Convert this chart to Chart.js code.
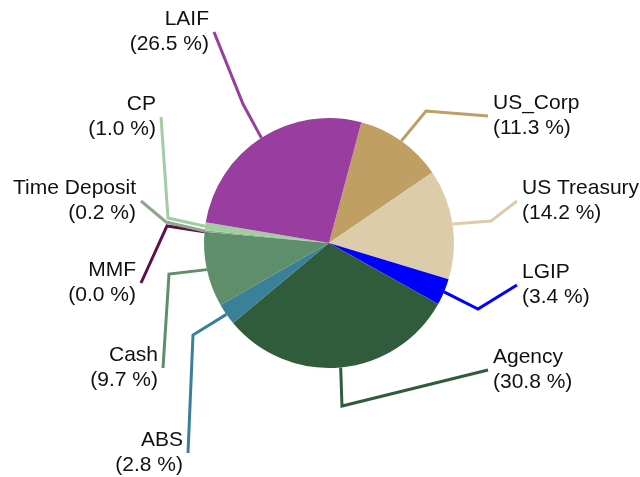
<!DOCTYPE html>
<html lang="en">
<head>
    <meta charset="UTF-8">
    <title>Portfolio Allocation</title>
    <script src="https://cdn.jsdelivr.net/npm/chart.js"></script>
    <style>
        body {
            margin: 0;
            background: white;
        }

        .chart-box {
            width: 640px;
            height: 477px;
        }
    </style>
</head>
<body>
    <div class="chart-box">
        <canvas id="pieChart"></canvas>
    </div>

    <script>
        // datos de la cartera (porcentajes)
        const categories = ['US_Corp', 'US Treasury', 'LGIP', 'Agency', 'ABS', 'Cash', 'MMF', 'Time Deposit', 'CP', 'LAIF'];
        const shares = [11.3, 14.2, 3.4, 30.8, 2.8, 9.7, 0.0, 0.2, 1.0, 26.5];
        const sliceColors = ['#bf9f63', '#dccca9', '#0000ff', '#305c3c', '#3a8098', '#5e8e6a', '#5e0e4a', '#8ea88a', '#a3cca3', '#993da1'];

        // posiciones de las etiquetas: codo y final de la linea, relativo al centro del pie
        const calloutLayout = [
            { elbow: [97, -132], end: [159, -127], side: 'right' },
            { elbow: [162, -22], end: [188, -42], side: 'right' },
            { elbow: [149, 66], end: [188, 42], side: 'right' },
            { elbow: [13, 163], end: [159, 127], side: 'right' },
            { elbow: [-136, 92], end: [-141, 210], side: 'left' },
            { elbow: [-160, 31], end: [-166, 125], side: 'left' },
            { elbow: [-162, -17], end: [-188, 40], side: 'left' },
            { elbow: [-163, -21], end: [-188, -42], side: 'left' },
            { elbow: [-161, -25], end: [-168, -126], side: 'left' },
            { elbow: [-86, -139], end: [-115, -211], side: 'left' }
        ];

        const calloutPlugin = {
            id: 'callouts',
            afterDatasetsDraw(chart) {
                const ctx = chart.ctx;
                const meta = chart.getDatasetMeta(0);
                ctx.save();
                meta.data.forEach((arc, i) => {
                    const p = arc.getProps(['x', 'y', 'startAngle', 'endAngle', 'outerRadius'], true);
                    const mid = (p.startAngle + p.endAngle) / 2;
                    const sx = p.x + Math.cos(mid) * p.outerRadius;
                    const sy = p.y + Math.sin(mid) * p.outerRadius;
                    const lay = calloutLayout[i];
                    const ex = p.x + lay.end[0];
                    const ey = p.y + lay.end[1];

                    ctx.strokeStyle = sliceColors[i];
                    ctx.lineWidth = 3;
                    ctx.beginPath();
                    ctx.moveTo(sx, sy);
                    ctx.lineTo(p.x + lay.elbow[0], p.y + lay.elbow[1]);
                    ctx.lineTo(ex, ey);
                    ctx.stroke();

                    ctx.fillStyle = '#111';
                    ctx.font = '21px "Liberation Sans", Arial, sans-serif';
                    ctx.textBaseline = 'middle';
                    let tx;
                    if (lay.side === 'left') {
                        ctx.textAlign = 'right';
                        tx = ex - 5;
                    } else {
                        ctx.textAlign = 'left';
                        tx = ex + 5;
                    }
                    ctx.fillText(categories[i], tx, ey - 13);
                    ctx.fillText('(' + shares[i].toFixed(1) + ' %)', tx, ey + 12);
                });
                ctx.restore();
            }
        };

        new Chart(document.getElementById('pieChart'), {
            type: 'pie',
            data: {
                labels: categories,
                datasets: [{
                    data: shares,
                    backgroundColor: sliceColors,
                    borderWidth: 0
                }]
            },
            options: {
                responsive: true,
                maintainAspectRatio: false,
                animation: false,
                rotation: 15,
                layout: {
                    padding: { top: 118, bottom: 109, left: 204, right: 186 }
                },
                plugins: {
                    legend: { display: false },
                    tooltip: { enabled: false }
                }
            },
            plugins: [calloutPlugin]
        });
    </script>
</body>
</html>
